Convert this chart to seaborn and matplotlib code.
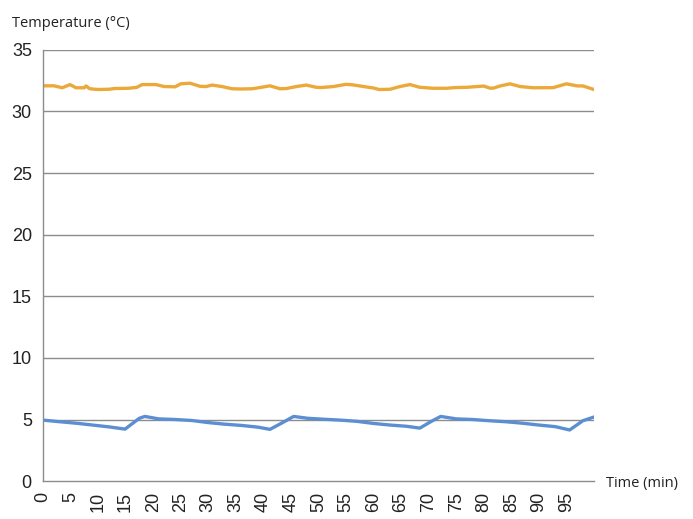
import numpy as np
import pandas as pd
import matplotlib
matplotlib.use("Agg")
import matplotlib.pyplot as plt
import seaborn as sns

# orange series (upper sensor)
warm_time = [0, 2, 3.5, 4.9, 6, 7.5, 7.8, 8.5, 10, 12, 13, 15.5, 17, 18, 20.5, 22, 24,
             25, 26.7, 28.5, 29.6, 30.7, 32.5, 34.3, 36, 38, 39.4, 41.2, 43, 44.2, 46,
             47.8, 49.6, 50.5, 52.7, 55, 56.2, 58.2, 60, 61, 63, 64.8, 66.6, 68.4, 70.8,
             73.2, 75, 77, 80, 81.2, 81.8, 83, 84.8, 86.6, 89, 92.6, 95, 97, 98, 100]
warm_temp = [32.08, 32.08, 31.92, 32.18, 31.92, 31.92, 32.07, 31.84, 31.78, 31.8, 31.86,
             31.88, 31.95, 32.18, 32.18, 32.02, 32.0,
             32.24, 32.29, 32.04, 32.02, 32.14, 32.02, 31.84, 31.82, 31.84, 31.94, 32.08,
             31.84, 31.86, 32.02, 32.14, 31.96, 31.94, 32.02, 32.2, 32.16, 32.02, 31.9,
             31.78, 31.8, 32.02, 32.18, 31.96, 31.88, 31.88, 31.94, 31.96, 32.06, 31.88,
             31.9, 32.07, 32.24, 32.02, 31.92, 31.93, 32.24, 32.07, 32.07, 31.78]

# blue series (lower sensor)
cold_time = [0, 3, 6, 9, 12, 14.9, 17.5, 18.5, 21, 24, 27, 30, 33, 36, 39, 41.2, 43.5,
             45.5, 48, 51, 54, 57, 60, 63, 66, 68.4, 70.5, 72.2, 75, 78, 81, 84, 87, 90,
             93, 95.6, 98, 100]
cold_temp = [4.95, 4.82, 4.7, 4.55, 4.4, 4.22, 5.1, 5.25, 5.05, 5.0, 4.92, 4.75, 4.62,
             4.52, 4.38, 4.2, 4.75, 5.25, 5.1, 5.02, 4.95, 4.85, 4.68, 4.55, 4.45, 4.3,
             4.85, 5.25, 5.05, 5.0, 4.9, 4.82, 4.7, 4.55, 4.42, 4.15, 4.9, 5.2]

y_ticks = [0, 5, 10, 15, 20, 25, 30, 35]
x_ticks = list(range(0, 101, 5))
x_labels = [str(t) for t in range(0, 100, 5)] + [""]

warm = pd.DataFrame({"time": warm_time, "temp": warm_temp})
cold = pd.DataFrame({"time": cold_time, "temp": cold_temp})

sns.set_style("white")
plt.rcParams["font.family"] = ["Liberation Sans", "DejaVu Sans"]

fig = plt.figure(figsize=(6.93, 5.19), dpi=100)
ax = fig.add_axes([0.062, 0.073, 0.795, 0.831])

grid_col = "#8c8c8c"
for y in y_ticks[1:]:
    ax.axhline(y, color=grid_col, lw=1.0, zorder=0)

sns.lineplot(data=warm, x="time", y="temp", color="#eba93a", lw=2.4, ax=ax)
sns.lineplot(data=cold, x="time", y="temp", color="#5b8fd2", lw=2.4, ax=ax)

ax.set_xlim(0, 100)
ax.set_ylim(0, 35)
ax.set_yticks(y_ticks)
ax.set_xticks(x_ticks)
ax.set_xticklabels(x_labels, rotation=90)
ax.tick_params(axis="both", labelsize=13, colors="#222222", length=6, width=1.0,
               direction="out", pad=2)
ax.tick_params(axis="both", color=grid_col)
for side in ["top", "right"]:
    ax.spines[side].set_visible(False)
for side in ["left", "bottom"]:
    ax.spines[side].set_color(grid_col)
    ax.spines[side].set_linewidth(1.0)
ax.set_xlabel("")
ax.set_ylabel("")

fig.text(0.017, 0.955, "Temperature (°C)", fontsize=10.5, family=["Open Sans", "DejaVu Sans"],
         color="#222222", va="center", ha="left")
fig.text(0.875, 0.068, "Time (min)", fontsize=10.5, family=["Open Sans", "DejaVu Sans"],
         color="#222222", va="center", ha="left")

fig.savefig("out.png", dpi=100)
